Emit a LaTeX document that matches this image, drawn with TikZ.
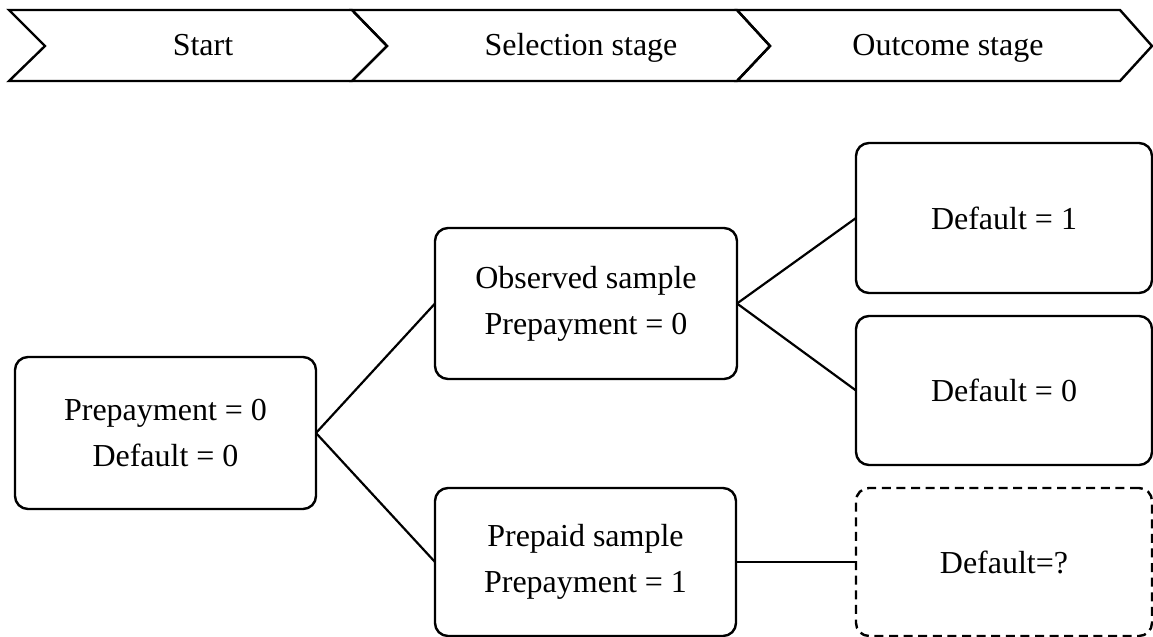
\documentclass[tikz,border=0pt]{standalone}
\usepackage{fontspec}
\setmainfont{Liberation Serif}
\begin{document}
\begin{tikzpicture}[x=0.5pt,y=-0.5pt,
  box/.style={draw, line width=1.2pt, rounded corners=6.5pt, inner sep=0pt, outer sep=0pt,
    align=center, font=\fontsize{16}{23}\selectfont},
  dbox/.style={box, dash pattern=on 4.5pt off 2.8pt},
  chev/.style={draw, line width=1.2pt, line join=miter},
  lab/.style={inner sep=0pt, anchor=base, font=\fontsize{16}{23}\selectfont},
  link/.style={line width=1.1pt}]
\useasboundingbox (0,0) rectangle (1153,637);
% chevrons
\draw[chev] (9,10) -- (352,10) -- (387,46) -- (352,81) -- (9,81) -- (45,46) -- cycle;
\draw[chev] (352,10) -- (737,10) -- (770,46) -- (737,81) -- (352,81) -- (387,46) -- cycle;
\draw[chev] (737,10) -- (1120,10) -- (1152,46) -- (1120,81) -- (737,81) -- (770,46) -- cycle;
\node[lab] (c1) at (203,55) {Start};
\node[lab] (c2) at (581,55) {Selection stage};
\node[lab] (c3) at (948,55) {Outcome stage};
% boxes
\node[box, minimum width=150.5pt, minimum height=76pt] (st) at (165.5,433) {Prepayment = 0\\Default = 0};
\node[box, minimum width=151pt, minimum height=75.5pt] (obs) at (586,303.5) {Observed sample\\Prepayment = 0};
\node[box, minimum width=150.5pt, minimum height=74pt] (pre) at (585.5,562) {Prepaid sample\\Prepayment = 1};
\node[box, minimum width=148pt, minimum height=75pt] (d1) at (1004,218) {Default = 1};
\node[box, minimum width=148pt, minimum height=74.5pt] (d0) at (1004,390.5) {Default = 0};
\node[dbox, minimum width=148pt, minimum height=74pt] (dq) at (1004,562) {Default=?};
% connectors
\draw[link] (st.east) -- (obs.west);
\draw[link] (st.east) -- (pre.west);
\draw[link] (obs.east) -- (d1.west);
\draw[link] (obs.east) -- (d0.west);
\draw[link] (pre.east) -- (dq.west);
\end{tikzpicture}
\end{document}
